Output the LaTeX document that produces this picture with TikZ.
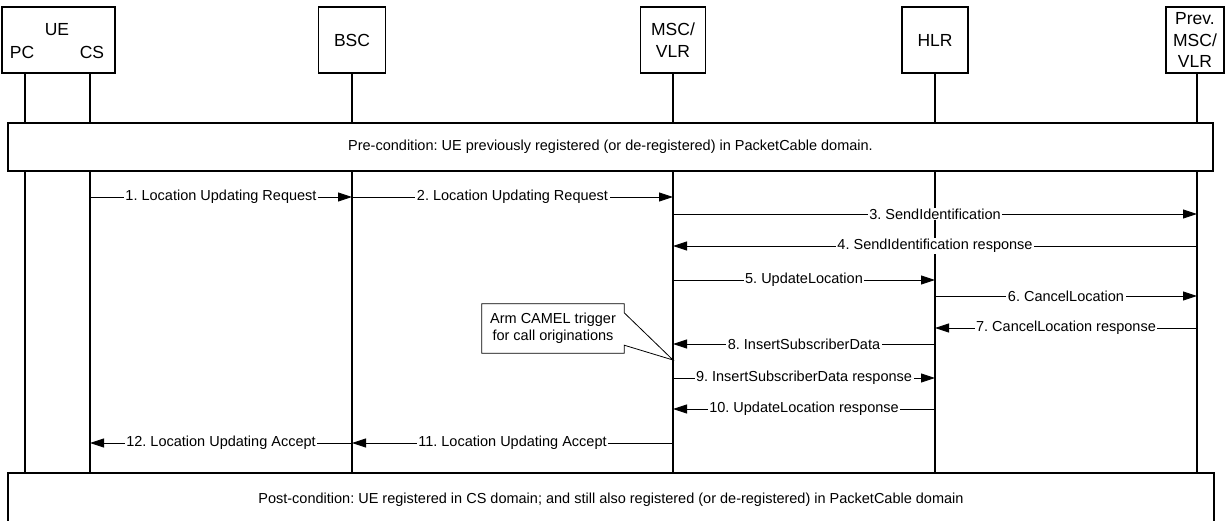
\documentclass[tikz,border=0pt]{standalone}
\usepackage{fontspec}
\setmainfont{Liberation Sans}
\usetikzlibrary{arrows.meta}

\tikzset{
    actor/.style={draw, line width=1.2pt, minimum height=66pt, inner sep=0pt,
        align=center, font=\fontsize{17.5}{21.5}\selectfont},
    actortext/.style={inner sep=0pt, font=\fontsize{17.5}{21.5}\selectfont},
    life/.style={line width=1.8pt},
    msg/.style={line width=0.9pt, -{Triangle[length=14pt,width=9pt]}},
    lbl/.style={fill=white, inner xsep=1.5pt, inner ysep=1pt,
        font=\fontsize{14.5}{17}\selectfont},
    cond/.style={draw, fill=white, line width=1.2pt, inner sep=0pt,
        font=\fontsize{14.5}{17}\selectfont},
}
\frenchspacing

\begin{document}
\begin{tikzpicture}[x=1pt, y=-1pt]
                %\draw[help lines] (0,0) grid (1225,521);
                \clip (0,0) rectangle (1225,521);
                % entities
                \node[actor, minimum width=113pt] (ue) at (58.5,40) {};
                \node[actortext] (uetxt) at (57,30) {UE};
                \node[actortext] (pc) at (22,52) {PC};
                \node[actortext] (cs) at (92,52) {CS};
                \node[actor, minimum width=67pt] (bsc) at (352,40) {BSC};
                \node[actor, minimum width=65pt] (msc) at (673,40) {MSC/\\VLR};
                \node[actor, minimum width=66pt] (hlr) at (935,40) {HLR};
                \node[actor, minimum width=58pt] (prev) at (1195,40) {Prev.\\MSC/\\VLR};
                \draw (25,73) coordinate(pcl);
                \draw (90,73) coordinate(csl);
                \draw (1197,73) coordinate(prevl);
                \draw (0,473) coordinate(bot);
                % lifelines
                \draw[life] (pcl) -- (pcl |- bot);
                \draw[life] (csl) -- (csl |- bot);
                \draw[life] (bsc.south) -- (bsc |- bot);
                \draw[life] (msc.south) -- (msc |- bot);
                \draw[life] (hlr.south) -- (hlr |- bot);
                \draw[life] (prevl) -- (prevl |- bot);
                % conditions
                \node[cond, minimum width=1205pt, minimum height=48pt] (pre) at (610.5,147)
                    {Pre-condition: UE previously registered (or de-registered) in PacketCable domain.};
                \node[cond, minimum width=1206pt, minimum height=54pt] (post) at (611,500)
                    {Post-condition: UE registered in CS domain; and still also registered (or de-registered) in PacketCable domain};
                % message levels
                \draw (0,197) coordinate(y1);
                \draw (0,214) coordinate(y3);
                \draw (0,246) coordinate(y4);
                \draw (0,280) coordinate(y5);
                \draw (0,296) coordinate(y6);
                \draw (0,328) coordinate(y7);
                \draw (0,344) coordinate(y8);
                \draw (0,378) coordinate(y9);
                \draw (0,409) coordinate(y10);
                \draw (0,443) coordinate(y11);
                % messages
                \draw[msg] (csl |- y1) -- node[lbl] {1. Location Updating Request} (bsc |- y1);
                \draw[msg] (bsc |- y1) -- node[lbl] {2. Location Updating Request} (msc |- y1);
                \draw[msg] (msc |- y3) -- node[lbl] {3. SendIdentification} (prevl |- y3);
                \draw[msg] (prevl |- y4) -- node[lbl] {4. SendIdentification response} (msc |- y4);
                \draw[msg] (msc |- y5) -- node[lbl] {5. UpdateLocation} (hlr |- y5);
                \draw[msg] (hlr |- y6) -- node[lbl] {6. CancelLocation} (prevl |- y6);
                \draw[msg] (prevl |- y7) -- node[lbl] {7. CancelLocation response} (hlr |- y7);
                \draw[msg] (hlr |- y8) -- node[lbl] {8. InsertSubscriberData} (msc |- y8);
                \draw[msg] (msc |- y9) -- node[lbl] {9. InsertSubscriberData response} (hlr |- y9);
                \draw[msg] (hlr |- y10) -- node[lbl] {10. UpdateLocation response} (msc |- y10);
                \draw[msg] (msc |- y11) -- node[lbl] {11. Location Updating Accept} (bsc |- y11);
                \draw[msg] (bsc |- y11) -- node[lbl] {12. Location Updating Accept} (csl |- y11);
                % note
                \node[align=center, inner sep=0pt, minimum width=142pt, minimum height=49pt,
                    font=\fontsize{14.5}{17.5}\selectfont] (camel) at (553,328.5)
                    {Arm CAMEL trigger\\for call originations};
                \draw (msc |- 0,360) coordinate(campt);
                \draw[line width=0.8pt] (camel.north west) -- (camel.north east)
                    -- ([yshift=-9pt]camel.north east) -- (campt)
                    -- ([yshift=8pt]camel.south east) -- (camel.south east)
                    -- (camel.south west) -- cycle;
\end{tikzpicture}
\end{document}
